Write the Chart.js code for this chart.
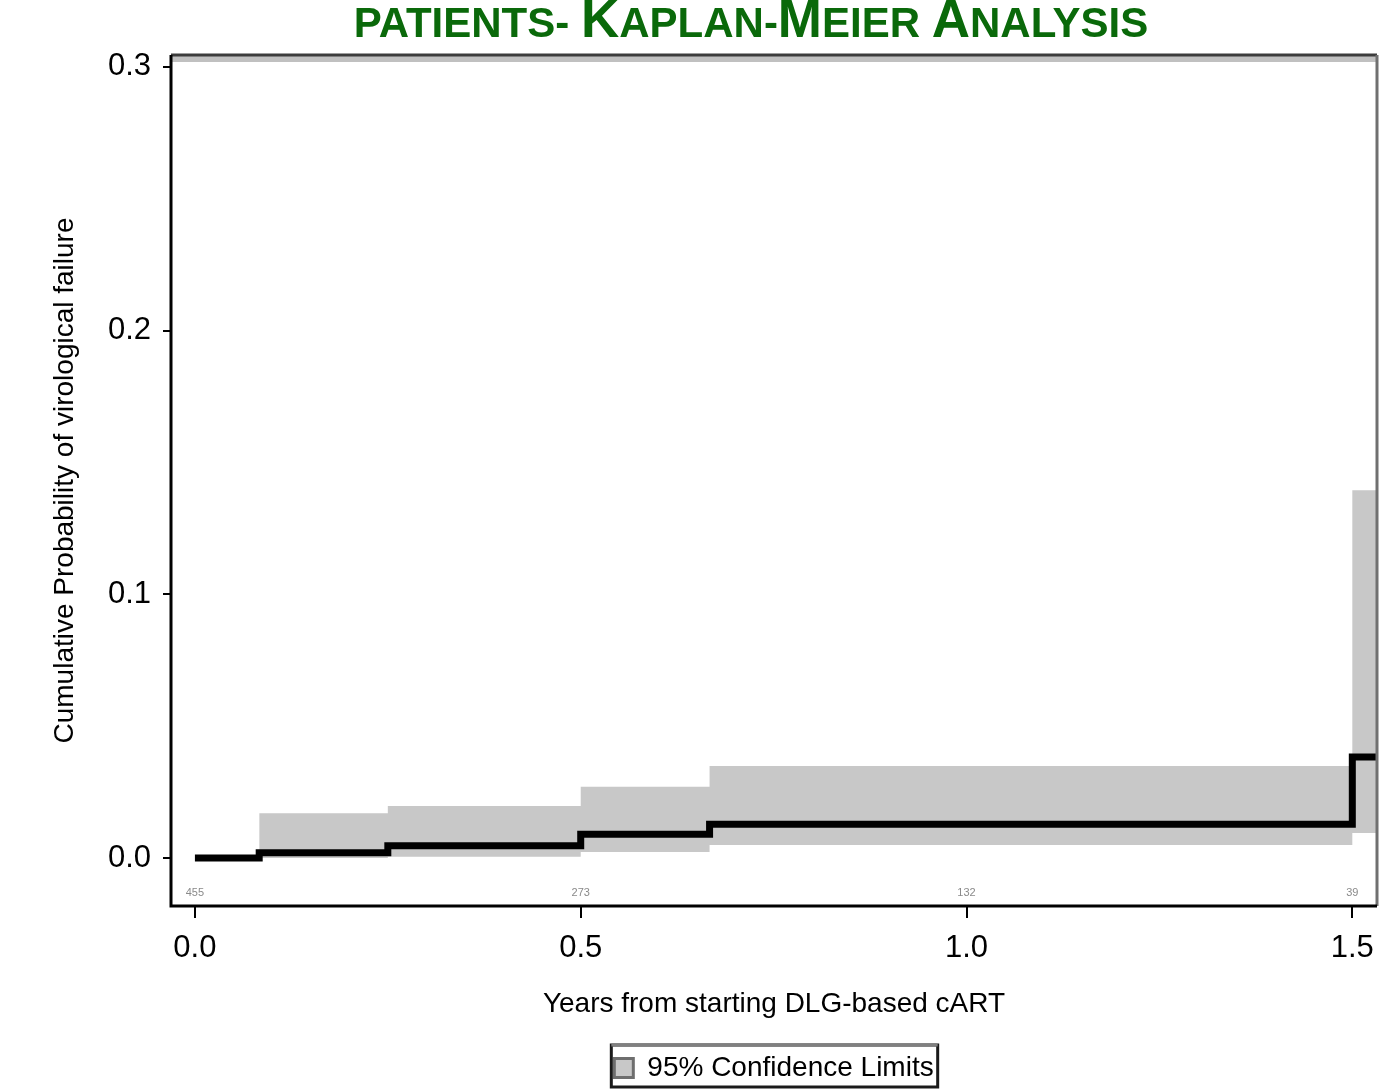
<!DOCTYPE html>
<html>
<head>
<meta charset="utf-8">
<script src="https://cdn.jsdelivr.net/npm/chart.js@4.4.1/dist/chart.umd.min.js"></script>
<style>
  html, body { margin: 0; padding: 0; background: #fff; }
  #wrap { width: 1379px; height: 1092px; }
</style>
</head>
<body>
<div id="wrap"><canvas id="km"></canvas></div>
<script>
// Kaplan-Meier estimate (cumulative probability of failure)
const kmTimes = [0, 0.0833, 0.25, 0.5, 0.667, 1.5, 1.54]
const kmValues = [0, 0.002, 0.0046, 0.009, 0.0128, 0.0383, 0.0383]

// 95% confidence band
const ciTimes = [0.0833, 0.25, 0.5, 0.667, 1.5, 1.54]
const ciUpper = [0.017, 0.0197, 0.027, 0.0349, 0.1395, 0.1395]
const ciLower = [0, 0.0005, 0.0023, 0.0049, 0.0095, 0.0095]

// numbers at risk
const atRiskTimes = [0, 0.5, 1.0, 1.5]
const atRiskCounts = ['455', '273', '132', '39']

const xTicks = [0, 0.5, 1.0, 1.5]
const yTicks = [0, 0.1, 0.2, 0.3]

const legendText = '95% Confidence Limits'

const titleParts = [
  ['PATIENTS- ', 'small'], ['K', 'big'], ['APLAN-', 'small'], ['M', 'big'],
  ['EIER ', 'small'], ['A', 'big'], ['NALYSIS', 'small']
]

const toPoints = (xs, ys) => xs.map((x, i) => ({ x: x, y: ys[i] }))

const tickFont = { family: "'Liberation Sans Narrow', 'Liberation Sans', sans-serif", size: 31 }
const labelFont = { family: "'Liberation Sans', Arial, sans-serif", size: 28 }

const extras = {
  id: 'extras',
  afterLayout(chart) {
    // centre the legend under the plot area, as in the original
    const lg = chart.legend
    lg.left = chart.chartArea.left
    lg.right = chart.chartArea.right
  },
  afterDatasetsDraw(chart) {
    const { ctx, chartArea: a } = chart
    const xs = chart.scales.x
    ctx.save()
    // numbers at risk
    ctx.fillStyle = '#8a8a8a'
    ctx.font = "11px 'Liberation Sans', sans-serif"
    ctx.textAlign = 'center'
    ctx.textBaseline = 'middle'
    atRiskTimes.forEach((t, i) => {
      ctx.fillText(atRiskCounts[i], xs.getPixelForValue(t), a.bottom - 13)
    })
    // frame
    ctx.fillStyle = '#c0c0c0'
    ctx.fillRect(a.left, a.top + 1, a.right - a.left, 6)
    ctx.lineWidth = 3
    ctx.strokeStyle = '#3c3c3c'
    ctx.beginPath(); ctx.moveTo(a.left, a.top); ctx.lineTo(a.right, a.top); ctx.stroke()
    ctx.strokeStyle = '#707070'
    ctx.beginPath(); ctx.moveTo(a.right, a.top); ctx.lineTo(a.right, a.bottom); ctx.stroke()
    ctx.strokeStyle = '#000'
    ctx.beginPath(); ctx.moveTo(a.left, a.top); ctx.lineTo(a.left, a.bottom); ctx.lineTo(a.right, a.bottom); ctx.stroke()
    ctx.restore()
  },
  afterDraw(chart) {
    const { ctx, chartArea: a } = chart
    const lg = chart.legend
    ctx.save()
    // legend border
    ctx.font = `${labelFont.size}px ${labelFont.family}`
    const itemW = 19 + labelFont.size / 2 + ctx.measureText(legendText).width
    const cx = (a.left + a.right) / 2
    const cy = lg.top + 18
    const l = cx - itemW / 2 - 3, r = cx + itemW / 2 + 4
    ctx.lineWidth = 3
    ctx.strokeStyle = '#1a1a1a'
    ctx.strokeRect(l, cy - 21, r - l, 42)
    ctx.strokeStyle = '#808080'
    ctx.beginPath(); ctx.moveTo(l, cy - 21); ctx.lineTo(r, cy - 21); ctx.stroke()
    // title in small caps
    const fonts = {
      big: "bold 53px 'Liberation Sans', Arial, sans-serif",
      small: "bold 42px 'Liberation Sans', Arial, sans-serif"
    }
    let total = 0
    titleParts.forEach(p => { ctx.font = fonts[p[1]]; total += ctx.measureText(p[0]).width })
    let x = 751 - total / 2
    ctx.fillStyle = '#0a690a'
    ctx.textBaseline = 'alphabetic'
    ctx.textAlign = 'left'
    titleParts.forEach(p => {
      ctx.font = fonts[p[1]]
      ctx.fillText(p[0], x, 37)
      x += ctx.measureText(p[0]).width
    })
    ctx.restore()
  }
}

new Chart(document.getElementById('km'), {
  type: 'line',
  data: {
    datasets: [
      {
        label: 'Kaplan-Meier',
        data: toPoints(kmTimes, kmValues),
        stepped: 'before',
        borderColor: '#000',
        borderWidth: 7,
        pointRadius: 0,
        fill: false
      },
      {
        label: legendText,
        data: toPoints(ciTimes, ciUpper),
        stepped: 'before',
        borderWidth: 0,
        borderColor: 'rgba(0,0,0,0)',
        backgroundColor: '#c8c8c8',
        pointRadius: 0,
        fill: '+1'
      },
      {
        label: 'lower',
        data: toPoints(ciTimes, ciLower),
        stepped: 'before',
        borderWidth: 0,
        borderColor: 'rgba(0,0,0,0)',
        pointRadius: 0,
        fill: false
      }
    ]
  },
  options: {
    responsive: true,
    maintainAspectRatio: false,
    animation: false,
    layout: { padding: { top: 55, right: 2, left: 0, bottom: 0 } },
    plugins: {
      title: { display: false },
      tooltip: { enabled: false },
      legend: {
        position: 'bottom',
        labels: {
          color: '#000',
          font: labelFont,
          boxWidth: 19,
          boxHeight: 19,
          padding: 6,
          generateLabels: () => [{
            text: legendText,
            fillStyle: '#c8c8c8',
            strokeStyle: '#6e6e6e',
            lineWidth: 3,
            hidden: false,
            datasetIndex: 1
          }]
        }
      }
    },
    scales: {
      x: {
        type: 'linear',
        min: -0.031,
        max: 1.532,
        afterBuildTicks: s => { s.ticks = xTicks.map(v => ({ value: v })) },
        afterFit: s => { s.height = 142; s.paddingLeft = 0; s.paddingRight = 0 },
        border: { display: false },
        grid: { drawOnChartArea: false, drawTicks: true, tickLength: 12, color: '#000', lineWidth: 2 },
        ticks: { color: '#000', font: tickFont, padding: 12, callback: v => v.toFixed(1), maxRotation: 0 },
        title: {
          display: true,
          text: 'Years from starting DLG-based cART',
          color: '#000',
          font: labelFont,
          padding: { top: 0, bottom: 27 }
        }
      },
      y: {
        type: 'linear',
        min: -0.0182,
        max: 0.3045,
        afterBuildTicks: s => { s.ticks = yTicks.map(v => ({ value: v })) },
        afterFit: s => { s.width = 171 },
        border: { display: false },
        grid: { drawOnChartArea: false, drawTicks: true, tickLength: 8, color: '#000', lineWidth: 2 },
        ticks: { color: '#000', font: tickFont, padding: 12, callback: v => v.toFixed(1) },
        title: {
          display: true,
          text: 'Cumulative Probability of virological failure',
          color: '#000',
          font: labelFont,
          padding: { top: 48, bottom: 0 }
        }
      }
    }
  },
  plugins: [extras]
})
</script>
</body>
</html>
